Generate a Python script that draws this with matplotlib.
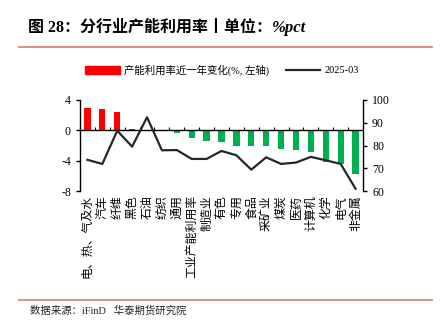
import numpy as np
import matplotlib.pyplot as plt
from matplotlib.lines import Line2D

plt.rcParams['font.family'] = ['Liberation Serif', 'Noto Sans CJK SC']
plt.rcParams['axes.unicode_minus'] = False

# 数据
categories = ['电、热、气及水', '汽车', '纤维', '黑色', '石油', '纺织', '通用',
              '工业产能利用率', '制造业', '有色', '专用', '食品', '采矿业', '煤炭',
              '医药', '计算机', '化学', '电气', '非金属']
change_yoy = [3.0, 2.8, 2.4, 0.15, 0.05, 0.0, -0.4, -1.0, -1.35, -1.6, -2.0,
              -2.05, -2.1, -2.45, -2.55, -2.8, -4.2, -4.4, -5.8]
util_2503 = [73.7, 71.9, 86.5, 79.5, 92.4, 77.9, 78.0, 74.1, 74.1, 77.6, 75.7,
             69.4, 74.8, 71.9, 72.5, 75.0, 73.5, 71.9, 61.0]

fig = plt.figure(figsize=(4.44, 3.23), dpi=100)

# 标题（中文黑体 + 数字Times）
t1 = fig.text(28/444, 1-28/323, '图 28：分行业产能利用率丨单位：', fontsize=11.5,
              fontweight='bold', va='center', ha='left',
              family=['Liberation Serif', 'Noto Sans CJK SC'])
fig.canvas.draw()
bb = t1.get_window_extent()
fig.text(bb.x1/444, 1-28/323, '%pct', fontsize=12, fontweight='bold', style='italic',
         va='center', ha='left', family=['Liberation Serif'])
fig.add_artist(Line2D([19/444, 432/444], [1-47/323, 1-47/323], color='#D98585', lw=1.3))
fig.add_artist(Line2D([19/444, 432/444], [1-300/323, 1-300/323], color='#D98585', lw=1.3))
fig.text(30/444, 1-311/323, '数据来源：iFinD   华泰期货研究院', fontsize=7.5,
         va='center', ha='left', color='#222222')

ax = fig.add_axes([80/444, 1-191/323, 283/444, 91/323])
x = np.arange(len(categories))
colors = ['#FF0000' if v >= 0 else '#00B050' for v in change_yoy]
ax.bar(x, change_yoy, width=0.42, color=colors, zorder=2)
ax.axhline(0, color='black', lw=1, zorder=3)
ax.set_ylim(-8, 4)
ax.set_yticks([-8, -4, 0, 4])
ax.set_xlim(-0.5, len(categories)-0.5)
ax.set_xticks(x)
ax.set_xticklabels(categories, fontsize=8.6, family=['Noto Sans CJK SC'],
                   rotation=90, ha='center', va='top')
ax.tick_params(axis='x', length=0, pad=3)
ax.tick_params(axis='y', labelsize=8.5, length=3, direction='out', width=1)
for s in ['top', 'bottom', 'right']:
    ax.spines[s].set_visible(False)
ax.spines['left'].set_linewidth(1)

# 零轴上的小刻度
sec = ax.secondary_xaxis(8/12)
sec.set_xticks(np.arange(len(categories)+1) - 0.5)
sec.tick_params(axis='x', direction='in', length=2.5, width=0.8, labelbottom=False,
                labeltop=False, bottom=True, top=False)
sec.spines['bottom'].set_visible(False)
sec.spines['top'].set_visible(False)

ax2 = ax.twinx()
ax2.plot(x, util_2503, color='#262626', lw=1.6, zorder=4)
ax2.set_ylim(60, 100)
ax2.set_yticks([60, 70, 80, 90, 100])
ax2.tick_params(axis='y', labelsize=8.5, length=3, direction='out', width=1)
for s in ['top', 'bottom', 'left']:
    ax2.spines[s].set_visible(False)
ax2.spines['right'].set_linewidth(1)

handles = [plt.Rectangle((0, 0), 1, 1, color='#FF0000'),
           Line2D([0], [0], color='#262626', lw=1.6)]
fig.legend(handles, ['产能利用率近一年变化(%, 左轴)', '2025-03'], ncol=2,
           loc='center', bbox_to_anchor=(222/444, 1-70/323), frameon=False,
           fontsize=7.5, handlelength=3.3, handleheight=0.8, columnspacing=1.6,
           handletextpad=0.4)

fig.savefig('out.png', dpi=100)
